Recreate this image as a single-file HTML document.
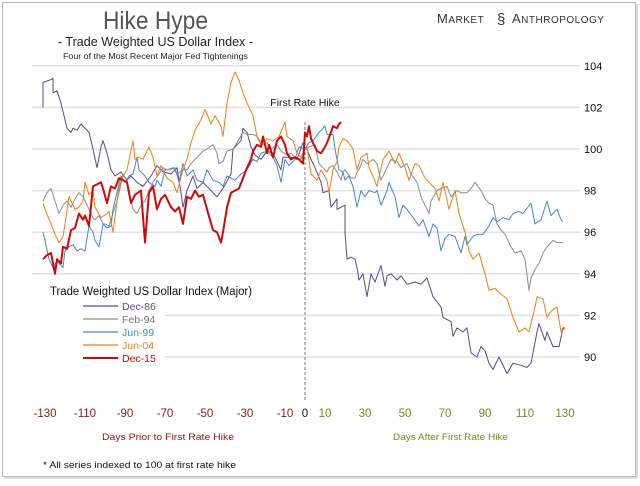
<!DOCTYPE html>
<html><head><meta charset="utf-8">
<style>
html,body{margin:0;padding:0;background:#fff;}
body{width:640px;height:481px;overflow:hidden;font-family:"Liberation Sans",sans-serif;}
svg text{font-family:"Liberation Sans",sans-serif;}
</style></head>
<body>
<svg id="chart" width="640" height="481" viewBox="0 0 640 481" xmlns="http://www.w3.org/2000/svg">
  <rect x="2.5" y="2.5" width="633" height="474" fill="#fff" stroke="#bbb" stroke-width="1"/>
  <line x1="637" y1="4" x2="637" y2="478" stroke="#ddd" stroke-width="2"/>
  <line x1="4" y1="478" x2="637" y2="478" stroke="#ddd" stroke-width="2"/>
  <text x="103" y="29" font-size="25" fill="#555" textLength="105" lengthAdjust="spacingAndGlyphs">Hike Hype</text>
  <text x="58" y="46" font-size="13" fill="#222" textLength="195" lengthAdjust="spacingAndGlyphs">- Trade Weighted US Dollar Index -</text>
  <text x="63" y="59" font-size="8.5" fill="#222" textLength="185" lengthAdjust="spacingAndGlyphs">Four of the Most Recent Major Fed Tightenings</text>
  <g>
    <text x="437" y="23" font-size="13" fill="#333" letter-spacing="0.5">M<tspan font-size="10">ARKET</tspan></text>
    <text x="497" y="24" font-size="15" fill="#333">§</text>
    <text x="512" y="23" font-size="13" fill="#333" letter-spacing="0.5">A<tspan font-size="10">NTHROPOLOGY</tspan></text>
  </g>
  <g id="grid"></g>
  <g id="yticks"></g>
  <g id="xticks"></g>
  <line x1="305" y1="122" x2="305" y2="400" stroke="#777" stroke-width="1" stroke-dasharray="3,2"/>
  <text x="305" y="106" text-anchor="middle" font-size="10.5" fill="#111">First Rate Hike</text>
  <g id="series"></g>
  <text x="102" y="440" font-size="9.5" fill="#8b1a1a" textLength="132" lengthAdjust="spacingAndGlyphs">Days Prior to First Rate Hike</text>
  <text x="393" y="440" font-size="9.5" fill="#6b8e23" textLength="115" lengthAdjust="spacingAndGlyphs">Days After First Rate Hike</text>
  <text x="43" y="468" font-size="9.5" fill="#111" textLength="193" lengthAdjust="spacingAndGlyphs">* All series indexed to 100 at first rate hike</text>
  <g id="legend">
    <text x="50" y="295" font-size="11.5" fill="#111" textLength="202" lengthAdjust="spacingAndGlyphs">Trade Weighted US Dollar Index (Major)</text>
  </g>
</svg>
<script>
const yTicks = [104, 102, 100, 98, 96, 94, 92, 90];
const xTicks = [-130, -110, -90, -70, -50, -30, -10, 0, 10, 30, 50, 70, 90, 110, 130];
const seriesNames = ["Dec-86", "Feb-94", "Jun-99", "Jun-04", "Dec-15"];
const seriesColors = ["#5b4a8b", "#8c8c8c", "#4a86c8", "#f07f1a", "#cc0a0a"];

const dec86 = [[-131,102.0],[-131,103.2],[-128,103.3],[-126,103.4],[-126,102.7],[-124,102.8],[-122,102.2],[-121,101.8],[-119,101.0],[-117,100.8],[-116,101.0],[-114,100.9],[-112,101.2],[-111,101.1],[-108,100.8],[-106,100.0],[-104,99.1],[-102,100.1],[-101,100.4],[-99,99.8],[-97,99.0],[-95,98.7],[-92,98.9],[-89,98.5],[-87,98.7],[-84,98.4],[-81,98.2],[-77,98.7],[-74,99.2],[-71,98.9],[-67,98.8],[-64,99.1],[-62,97.9],[-61,97.2],[-59,98.0],[-56,98.7],[-54,98.1],[-51,98.4],[-47,98.0],[-44,97.7],[-41,98.1],[-37,98.8],[-36,100.0],[-34,100.2],[-32,100.4],[-31,101.0],[-29,100.8],[-27,100.1],[-25,99.7],[-22,99.5],[-19,99.9],[-16,99.8],[-12,99.0],[-11,99.6],[-7,99.6],[-4,99.5],[-1,100.3],[0,100.0],[1,100.0],[3,99.5],[5,99.1],[8,98.4],[9,97.9],[12,98.0],[13,97.2],[16,97.6],[16,97.1],[20,97.3],[20,96.0],[21,94.7],[23,94.8],[25,94.7],[26,94.3],[27,93.7],[29,94.0],[31,92.9],[33,94.0],[35,93.6],[38,94.4],[40,93.4],[41,93.9],[43,94.0],[46,93.7],[48,93.9],[51,93.5],[55,93.6],[58,93.5],[61,93.8],[64,92.9],[68,92.4],[69,91.9],[73,91.7],[74,91.0],[76,91.4],[79,91.2],[81,91.4],[83,90.2],[86,90.0],[88,90.5],[90,90.3],[92,89.7],[94,89.4],[97,90.0],[101,89.2],[104,89.7],[108,89.6],[111,89.5],[113,89.7],[116,91.2],[117,91.6],[120,90.8],[121,91.2],[124,90.5],[127,90.5],[129,91.4],[130,91.4]];
const feb94 = [[-131,97.5],[-129,97.9],[-127,98.1],[-125,97.5],[-123,96.9],[-121,97.3],[-119,97.5],[-117,97.2],[-115,97.6],[-113,97.9],[-111,97.7],[-109,97.3],[-108,97.1],[-106,96.7],[-105,96.6],[-103,96.8],[-101,96.4],[-100,96.4],[-98,96.3],[-96,96.9],[-94,97.5],[-93,98.1],[-91,98.8],[-89,98.5],[-87,97.5],[-86,97.1],[-84,96.9],[-82,97.3],[-80,97.5],[-78,98.0],[-76,98.4],[-73,98.8],[-71,99.1],[-69,99.0],[-66,99.1],[-64,98.8],[-61,99.0],[-59,99.0],[-57,99.3],[-54,99.6],[-51,99.9],[-49,100.0],[-46,100.2],[-44,99.8],[-43,99.3],[-41,99.4],[-39,99.9],[-36,100.0],[-34,100.3],[-31,100.8],[-29,100.7],[-26,100.7],[-24,100.6],[-22,100.2],[-19,100.3],[-17,100.0],[-14,100.2],[-12,99.9],[-9,99.7],[-7,99.8],[-5,99.6],[-2,99.5],[0,100],[2,100.1],[5,100.2],[7,99.3],[9,99.1],[11,98.9],[12,99.1],[14,99.2],[16,98.9],[18,98.5],[19,98.9],[20,99.0],[23,98.6],[25,98.6],[26,98.9],[27,99.0],[29,99.5],[31,99.3],[34,99.5],[36,99.3],[38,98.5],[41,99.1],[43,99.5],[46,99.4],[48,99.1],[51,99.3],[53,98.8],[56,98.4],[58,97.7],[62,96.9],[63,97.5],[66,98.0],[68,98.1],[71,98.2],[73,97.7],[76,98.0],[78,97.9],[81,97.9],[83,98.1],[85,98.4],[88,98.0],[90,97.6],[92,97.4],[94,97.3],[96,96.4],[98,96.1],[100,95.9],[103,95.3],[105,95.0],[108,95.1],[110,94.7],[112,93.2],[113,93.8],[115,94.2],[117,94.5],[119,95.0],[121,95.3],[124,95.6],[126,95.5],[129,95.5]];
const jun99 = [[-131,96.0],[-130,95.6],[-128,94.7],[-126,94.3],[-124,94.6],[-121,94.3],[-120,95.1],[-118,95.3],[-116,95.4],[-114,95.1],[-112,95.2],[-110,95.1],[-108,96.3],[-106,96.0],[-105,95.6],[-103,95.3],[-101,96.4],[-99,96.2],[-97,96.3],[-96,97.1],[-94,97.9],[-92,98.7],[-90,98.4],[-88,98.7],[-86,98.8],[-84,99.6],[-83,99.0],[-80,98.7],[-78,98.4],[-75,98.2],[-74,98.5],[-72,98.2],[-70,99.0],[-68,99.0],[-65,99.1],[-63,98.4],[-61,99.3],[-59,98.7],[-56,99.0],[-54,98.5],[-51,98.4],[-49,99.0],[-46,98.5],[-43,98.4],[-41,98.2],[-39,98.7],[-35,98.5],[-32,98.8],[-29,99.0],[-26,99.5],[-24,99.4],[-22,99.8],[-19,99.9],[-16,99.6],[-14,99.2],[-12,98.4],[-10,99.5],[-8,99.2],[-5,99.5],[-3,100.1],[0,100],[2,100.3],[4,100.4],[7,100.8],[10,101.1],[11,100.7],[14,100.7],[15,100.0],[17,99.0],[19,98.9],[20,98.5],[22,98.7],[24,98.2],[26,97.2],[28,98.0],[30,97.7],[32,98.0],[35,97.9],[36,98.0],[38,97.3],[41,98.0],[42,98.4],[45,97.7],[47,96.7],[49,97.3],[51,97.1],[54,96.7],[57,96.3],[59,96.6],[62,95.8],[64,96.4],[66,96.2],[68,95.1],[70,95.7],[72,95.9],[75,95.8],[78,95.0],[80,95.8],[81,95.4],[84,95.8],[86,95.9],[89,95.9],[92,96.3],[94,96.7],[96,96.5],[99,96.7],[102,96.6],[104,96.9],[107,97.0],[109,96.9],[113,97.4],[115,96.4],[118,96.6],[121,97.5],[123,96.8],[126,97.1],[128,96.6],[129,96.5]];
const jun04 = [[-131,97.4],[-130,97.1],[-127,96.4],[-125,95.9],[-123,95.5],[-121,95.8],[-120,96.4],[-118,97.7],[-115,97.1],[-113,97.2],[-111,97.5],[-110,98.4],[-108,97.8],[-106,98.0],[-105,97.2],[-102,96.7],[-99,96.9],[-98,97.0],[-96,96.0],[-94,97.5],[-91,98.7],[-89,99.0],[-86,100.4],[-85,99.5],[-83,99.6],[-81,99.5],[-78,100.1],[-76,99.6],[-74,98.7],[-72,99.2],[-69,98.6],[-66,98.4],[-64,97.9],[-61,99.0],[-59,99.5],[-57,100.3],[-55,100.9],[-52,101.4],[-50,101.9],[-47,101.2],[-45,101.6],[-42,101.1],[-41,100.6],[-39,102.2],[-37,103.2],[-35,103.7],[-33,103.3],[-31,102.7],[-29,102.2],[-26,101.6],[-24,100.6],[-21,100.2],[-19,100.5],[-16,100.4],[-13,100.6],[-10,101.3],[-9,100.6],[-6,100.4],[-4,99.8],[-2,99.6],[0,100],[1,100.1],[3,98.8],[6,98.5],[8,99.0],[11,98.5],[12,97.9],[14,99.0],[16,99.4],[17,100.1],[19,100.5],[21,100.4],[24,100.0],[26,99.0],[28,99.6],[31,99.8],[32,99.1],[34,98.7],[36,98.2],[39,99.5],[42,99.9],[45,99.3],[47,99.8],[50,99.1],[52,98.5],[55,99.3],[57,99.2],[60,98.6],[62,98.4],[65,98.1],[67,97.5],[69,98.4],[72,97.1],[75,98.0],[77,96.9],[80,96.0],[82,95.1],[84,94.7],[87,95.0],[90,94.0],[92,93.2],[95,93.3],[97,93.1],[101,92.8],[104,91.9],[107,91.2],[110,91.4],[112,91.2],[115,92.4],[116,92.9],[119,92.8],[121,91.9],[123,92.2],[126,92.4],[128,91.2],[130,91.4]];
const dec15 = [[-131,94.7],[-129,94.9],[-127,95.0],[-125,94.0],[-124,94.7],[-122,94.5],[-121,95.3],[-119,95.2],[-117,96.1],[-115,96.2],[-113,96.9],[-111,96.6],[-110,96.8],[-108,96.3],[-106,98.2],[-104,98.3],[-102,98.4],[-101,98.1],[-99,97.4],[-97,98.2],[-95,98.1],[-93,98.6],[-91,98.5],[-89,98.4],[-87,97.4],[-85,97.8],[-82,98.0],[-80,95.5],[-78,97.9],[-76,98.2],[-74,97.1],[-72,97.6],[-70,97.8],[-67,97.2],[-65,97.0],[-63,97.2],[-61,96.4],[-59,97.7],[-57,97.6],[-55,98.0],[-53,97.7],[-51,97.8],[-49,97.1],[-46,96.1],[-44,96.0],[-42,95.5],[-41,96.0],[-39,97.2],[-37,97.9],[-35,98.0],[-33,98.1],[-31,98.6],[-29,99.1],[-27,99.5],[-26,99.9],[-24,100.2],[-22,100.1],[-21,100.6],[-19,99.8],[-18,100.2],[-16,99.6],[-14,100.4],[-12,100.6],[-10,100.2],[-9,99.8],[-7,99.5],[-5,99.6],[-3,99.5],[-1,99.3],[0,100.8],[1,100.6],[2,101.1],[3,100.5],[4,100.3],[6,99.9],[8,99.8],[10,100.1],[11,100.3],[13,100.8],[14,101.1],[16,101.0],[17,101.2],[18,101.3]];
const seriesData = [dec86, feb94, jun99, jun04, dec15];

const NS = "http://www.w3.org/2000/svg";
function xScale(d){ return 305 + 2.0 * d; }
function yScale(v){ return 149 - (v - 100) * 20.8; }
function mk(tag, attrs, parent){
  const el = document.createElementNS(NS, tag);
  for (const k in attrs) el.setAttribute(k, attrs[k]);
  parent.appendChild(el);
  return el;
}

const grid = document.getElementById("grid");
const yt = document.getElementById("yticks");
yTicks.forEach(v => {
  const y = yScale(v);
  const ln = mk("line", {x1: v <= 92 ? 165 : 32, x2: 580, y1: y, y2: y, stroke: "#e2e2e2", "stroke-width": 1.5}, grid);
  
  
  const t = mk("text", {x: 584, y: y + 4, "font-size": 11, fill: "#111"}, yt);
  t.textContent = v;
  
  
});

const xt = document.getElementById("xticks");
xTicks.forEach(d => {
  const t = mk("text", {x: xScale(d), y: 417, "text-anchor": "middle", "font-size": 11.5,
    fill: d < 0 ? "#8b1a1a" : (d === 0 ? "#111" : "#6b8e23")}, xt);
  t.textContent = d;
  
  
});

const sg = document.getElementById("series");
seriesData.forEach((data, i) => {
  const pts = data.map(p => xScale(p[0]).toFixed(1) + "," + yScale(p[1]).toFixed(1)).join(" ");
  const pl = mk("polyline", {points: pts, fill: "none", stroke: seriesColors[i],
    "stroke-width": i === 4 ? 2 : 1, "stroke-linejoin": "round"}, sg);
  
  
});

const lg = document.getElementById("legend");
seriesNames.forEach((n, i) => {
  const y = 306 + i * 13;
  const ln = mk("line", {x1: 83, x2: 118, y1: y, y2: y, stroke: seriesColors[i], "stroke-width": i === 4 ? 2 : 1.2}, lg);
  
  
  const t = mk("text", {x: 122, y: y + 4, "font-size": 10.5, fill: seriesColors[i] === "#8c8c8c" ? "#777" : seriesColors[i]}, lg);
  t.textContent = n;
  
  
});
</script>
</body></html>
